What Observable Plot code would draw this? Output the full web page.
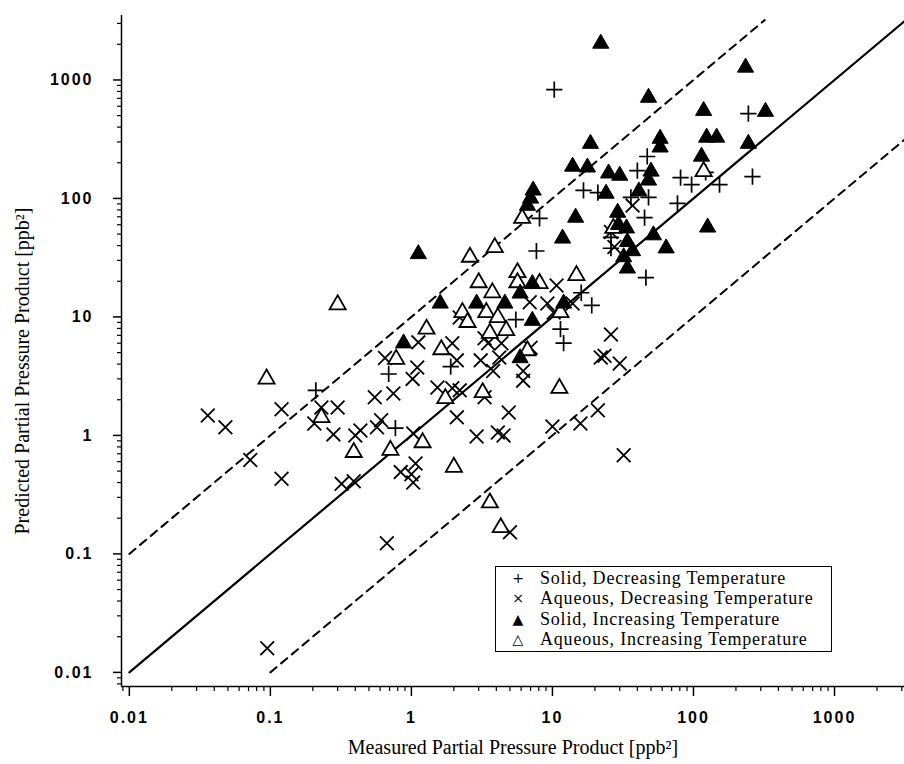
<!DOCTYPE html>
<html><head><meta charset="utf-8">
<script src="https://cdn.jsdelivr.net/npm/d3@7"></script>
<script src="https://cdn.jsdelivr.net/npm/@observablehq/plot@0.6"></script>
<style>
body{margin:0;background:#fff;}
#wrap{position:relative;width:904px;height:764px;overflow:hidden;}
#legend{position:absolute;left:495px;top:566px;width:337px;height:86px;border:1.5px solid #000;box-sizing:border-box;background:#fff;
 font-family:"Liberation Serif",serif;font-size:18px;letter-spacing:0.8px;line-height:20.5px;padding-top:0.5px;}
#legend .row{display:flex;align-items:center;height:20.5px;white-space:nowrap;}
#legend .sym{width:44px;text-align:center;font-family:"DejaVu Sans",sans-serif;font-size:14px;letter-spacing:0;}
g[aria-label$="tick label"] text{letter-spacing:2px;}
</style></head><body><div id="wrap"></div>
<script>
// Solid, Decreasing Temperature (+)
const solidDecX = [0.21, 0.69, 0.77, 1.9, 5.5, 7.7, 8.1, 11.4, 12, 16, 19, 16.6, 21, 36, 48, 77, 45, 26, 26, 46, 47, 40, 122, 81, 97, 153, 262, 245, 10.3];
const solidDecY = [2.4, 3.3, 1.15, 3.8, 9.5, 36, 68, 7.9, 6.0, 16, 12.5, 117, 112, 102, 102, 91, 69, 47, 38, 21.5, 226, 172, 166, 150, 131, 131, 153, 520, 830];
// Aqueous, Decreasing Temperature (x)
const aqDecX = [0.036, 0.048, 0.072, 0.12, 0.12, 0.23, 0.30, 0.205, 0.28, 0.40, 0.435, 0.55, 0.61, 0.57, 0.32, 0.39, 0.095,
  0.65, 1.12, 1.1, 1.02, 0.745, 0.84, 1.07, 1.0, 1.03, 0.67, 1.03, 1.53, 1.95, 2.1, 2.2, 1.95, 2.2, 3.1, 3.3, 3.5, 4.35, 4.2,
  3.8, 6.2, 6.2, 3.3, 2.1, 4.9, 2.9, 4.1, 4.5, 7.0, 6.9, 9.2, 10.2, 10.7, 10, 13.9, 26, 22, 23.4, 30, 21, 15.8, 32, 5.0, 37, 26, 27.5];
const aqDecY = [1.47, 1.17, 0.62, 0.43, 1.66, 1.72, 1.72, 1.26, 1.02, 1.0, 1.1, 2.1, 1.34, 1.17, 0.39, 0.41, 0.016,
  4.5, 6.1, 3.75, 3.0, 2.26, 0.49, 0.58, 0.47, 0.40, 0.123, 1.04, 2.54, 6.0, 4.3, 9.9, 2.5, 2.4, 4.3, 6.6, 6.0, 6.0, 4.55,
  3.5, 3.5, 2.9, 2.1, 1.42, 1.56, 0.98, 1.06, 1.0, 5.5, 13.3, 13, 10.9, 18.4, 1.19, 13, 7.1, 4.55, 4.7, 4.05, 1.63, 1.26, 0.68, 0.152, 87, 52, 39];
// Solid, Increasing Temperature (filled triangle)
const solidIncX = [22, 234, 48, 118, 324, 18.6, 58, 58, 124, 146, 245, 13.9, 17.7, 25, 30, 50, 48, 114, 7.3, 7.0, 6.65, 24, 41, 14.6, 29, 29.4, 33.5, 34, 37, 32, 34, 52, 64, 126, 11.8, 1.12, 1.6, 2.9, 4.6, 7.2, 5.9, 12, 7.2, 0.88, 5.9];
const solidIncY = [2030, 1275, 710, 550, 540, 290, 320, 270, 327, 327, 290, 186, 183, 163, 156, 169, 142, 226, 117, 100, 87, 110, 115, 69, 76, 60, 56, 43, 36, 32, 25.7, 49, 38, 57, 46, 34, 13, 13, 13, 19, 15.8, 13, 9.3, 6.0, 4.5];
// Aqueous, Increasing Temperature (open triangle)
const aqIncX = [0.094, 0.30, 0.23, 0.39, 0.78, 0.71, 1.2, 1.28, 1.63, 1.74, 2.0, 2.3, 2.5, 2.6, 3.0, 3.2, 3.4, 3.6, 3.75, 3.9, 4.1, 4.7, 5.65, 5.65, 6.1, 6.65, 8.1, 11.2, 11.4, 14.8, 3.6, 4.3, 118, 27];
const aqIncY = [3.0, 12.7, 1.42, 0.72, 4.4, 0.75, 0.87, 7.9, 5.3, 2.05, 0.54, 10.9, 9.0, 32, 19.5, 2.3, 10.9, 7.3, 16, 38.6, 9.9, 7.7, 23.7, 19.5, 68, 5.2, 19.2, 2.5, 10.9, 22.4, 0.27, 0.167, 169, 56];

// reference lines: y = x, y = 10x, y = x/10
const oneToOneX = [0.01, 4000];
const upperX = [0.01, 320];
const lowerX = [0.1, 40000];

const majorTicks = [0.01, 0.1, 1, 10, 100, 1000];
const minorMultipliers = [2, 3, 4, 5, 6, 7, 8, 9];

const xDomain = [0.0088, 3135];
const yDomain = [0.0076, 3500];

const xTitle = "Measured Partial Pressure Product [ppb\u00B2]";
const yTitle = "Predicted Partial Pressure Product [ppb\u00B2]";

const legendItems = [
  ["+", "Solid, Decreasing Temperature"],
  ["\u00D7", "Aqueous, Decreasing Temperature"],
  ["\u25B2", "Solid, Increasing Temperature"],
  ["\u25B3", "Aqueous, Increasing Temperature"]
];

const zip = (xs, ys) => xs.map((x, i) => ({x, y: ys[i]}));
const solidDec = zip(solidDecX, solidDecY);
const aqDec = zip(aqDecX, aqDecY);
const solidInc = zip(solidIncX, solidIncY);
const aqInc = zip(aqIncX, aqIncY);
const solidLine = oneToOneX.map(x => ({x, y: x}));
const upperLine = upperX.map(x => ({x, y: x * 10}));
const lowerLine = lowerX.map(x => ({x, y: x / 10}));

const minors = (dom) => majorTicks.concat([0.001, 10000]).flatMap(p => minorMultipliers.map(m => m * p)).filter(v => v > dom[0] && v < dom[1]);

const tickFont = {fontFamily: "Liberation Sans", fontSize: 16, fontWeight: "bold"};

const chart = Plot.plot({
  width: 904, height: 764,
  marginLeft: 121, marginRight: 0, marginTop: 15, marginBottom: 78,
  x: {type: "log", domain: xDomain, label: null},
  y: {type: "log", domain: yDomain, label: null},
  style: {background: "white", color: "black"},
  marks: [
    Plot.line(solidLine, {x: "x", y: "y", stroke: "black", strokeWidth: 2.2, clip: true}),
    Plot.line(upperLine, {x: "x", y: "y", stroke: "black", strokeWidth: 2, strokeDasharray: "8,6", clip: true}),
    Plot.line(lowerLine, {x: "x", y: "y", stroke: "black", strokeWidth: 2, strokeDasharray: "8,6", clip: true}),
    Plot.dot(aqDec, {x: "x", y: "y", symbol: "times", r: 6.3, stroke: "black", strokeWidth: 1.8}),
    Plot.dot(solidDec, {x: "x", y: "y", symbol: "plus", r: 5.3, stroke: "black", strokeWidth: 1.7}),
    Plot.dot(aqInc, {x: "x", y: "y", symbol: "triangle", r: 6, fill: "white", stroke: "black", strokeWidth: 1.8}),
    Plot.dot(solidInc, {x: "x", y: "y", symbol: "triangle", r: 6, fill: "black", stroke: "black", strokeWidth: 1}),
    Plot.ruleX([xDomain[0]], {stroke: "black", strokeWidth: 1.5}),
    Plot.ruleY([yDomain[0]], {stroke: "black", strokeWidth: 1.5}),
    Plot.axisX({ticks: majorTicks, tickSize: 10, tickPadding: 15, tickFormat: d => String(d), label: null, strokeWidth: 1.5, ...tickFont}),
    Plot.axisX({ticks: minors(xDomain), tickSize: 5, tickFormat: () => "", label: null, strokeWidth: 1.2}),
    Plot.axisY({ticks: majorTicks, tickSize: 8, tickPadding: 20, tickFormat: d => String(d), label: null, strokeWidth: 1.5, ...tickFont}),
    Plot.axisY({ticks: minors(yDomain), tickSize: 4, tickFormat: () => "", label: null, strokeWidth: 1.2}),
    Plot.text([xTitle], {text: d => d, frameAnchor: "bottom", dy: 67, fontFamily: "Liberation Serif", fontSize: 20}),
    Plot.text([yTitle], {text: d => d, frameAnchor: "left", textAnchor: "middle", dx: -99, dy: 20, rotate: -90, fontFamily: "Liberation Serif", fontSize: 20})
  ]
});

const wrap = document.getElementById("wrap");
wrap.appendChild(chart);
const legend = document.createElement("div");
legend.id = "legend";
for (const [s, t] of legendItems) {
  const row = document.createElement("div");
  row.className = "row";
  const sym = document.createElement("span");
  sym.className = "sym";
  sym.textContent = s;
  const txt = document.createElement("span");
  txt.textContent = t;
  row.appendChild(sym);
  row.appendChild(txt);
  legend.appendChild(row);
}
wrap.appendChild(legend);
</script>
</body></html>
